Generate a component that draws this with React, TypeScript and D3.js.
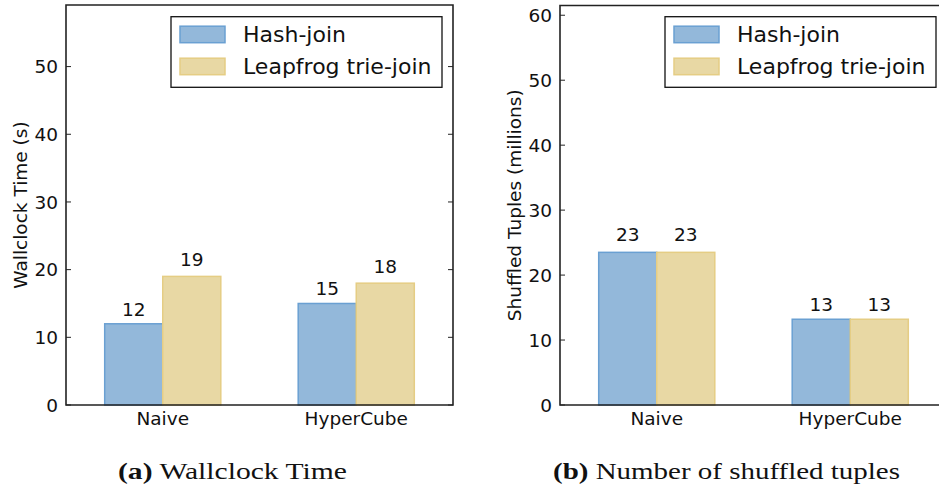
import React, { useEffect, useRef } from "react"
import * as d3 from "d3"

const categories = ["Naive", "HyperCube"]
const seriesNames = ["Hash-join", "Leapfrog trie-join"]
const seriesFill = ["#93b8da", "#e8d8a4"]
const seriesStroke = ["#6aa0d2", "#e5cd84"]

const wallclockHash = [12, 15]
const wallclockLeapfrog = [19, 18]
const wallclockTicks = [0, 10, 20, 30, 40, 50]

const shuffledHash = [23.5, 13.2]
const shuffledLeapfrog = [23.5, 13.2]
const shuffledTicks = [0, 10, 20, 30, 40, 50, 60]

const panels = [
    {
        left: 66, top: 5, yMax: 59.1,
        series: [wallclockHash, wallclockLeapfrog],
        ticks: wallclockTicks,
        yLabel: "Wallclock Time (s)",
        tag: "(a)", caption: " Wallclock Time", capX: 118, capW: 229,
    },
    {
        left: 560, top: 5.5, yMax: 61.5,
        series: [shuffledHash, shuffledLeapfrog],
        ticks: shuffledTicks,
        yLabel: "Shuffled Tuples (millions)",
        tag: "(b)", caption: " Number of shuffled tuples", capX: 553, capW: 347,
    },
]

const App = () => {
    const ref = useRef(null)

    useEffect(() => {
        const svg = d3.select(ref.current)
        svg.selectAll("*").remove()

        const axW = 387
        const bottom = 405
        const barW = 0.3
        const font = "DejaVu Sans"

        panels.forEach(p => {
            const g = svg.append("g")
            const x = d3.scaleLinear().domain([0, 2]).range([p.left, p.left + axW])
            const y = d3.scaleLinear().domain([0, p.yMax]).range([bottom, p.top])

            // bars + value labels
            p.series.forEach((vals, s) => {
                g.selectAll(null)
                    .data(vals)
                    .enter().append("rect")
                    .attr("x", (d, i) => x(i + 0.5 - barW + s * barW))
                    .attr("y", d => y(d))
                    .attr("width", x(barW) - x(0))
                    .attr("height", d => bottom - y(d))
                    .attr("fill", seriesFill[s])
                    .attr("stroke", seriesStroke[s])
                    .attr("stroke-width", 1.5)

                g.selectAll(null)
                    .data(vals)
                    .enter().append("text")
                    .attr("x", (d, i) => x(i + 0.5 - barW + s * barW + barW / 2))
                    .attr("y", d => y(d * 1.045) - 4.4)
                    .attr("text-anchor", "middle")
                    .attr("font-family", font)
                    .attr("font-size", 18.5)
                    .attr("fill", "#111")
                    .text(d => Math.floor(d))
            })

            // spines
            const x0 = x(0), x1 = x(2)
            g.append("path")
                .attr("d", `M${x0},${bottom}V${p.top}H${x1}V${bottom}Z`)
                .attr("fill", "none")
                .attr("stroke", "#222")
                .attr("stroke-width", 1.6)

            // y ticks (inward on both sides)
            p.ticks.forEach(t => {
                g.append("line")
                    .attr("x1", x0).attr("x2", x0 + 5)
                    .attr("y1", y(t)).attr("y2", y(t))
                    .attr("stroke", "#222").attr("stroke-width", 1)
                g.append("line")
                    .attr("x1", x1 - 5).attr("x2", x1)
                    .attr("y1", y(t)).attr("y2", y(t))
                    .attr("stroke", "#222").attr("stroke-width", 1)
                g.append("text")
                    .attr("x", x0 - 8)
                    .attr("y", y(t))
                    .attr("dy", "0.36em")
                    .attr("text-anchor", "end")
                    .attr("font-family", font)
                    .attr("font-size", 18.5)
                    .attr("fill", "#111")
                    .text(t)
            })

            // x tick labels
            g.selectAll(null)
                .data(categories)
                .enter().append("text")
                .attr("x", (d, i) => x(i + 0.5))
                .attr("y", 425)
                .attr("text-anchor", "middle")
                .attr("font-family", font)
                .attr("font-size", 18.5)
                .attr("fill", "#111")
                .text(d => d)

            // y axis label
            g.append("text")
                .attr("transform", `translate(${x0 - 39}, ${(bottom + p.top) / 2}) rotate(-90)`)
                .attr("text-anchor", "middle")
                .attr("font-family", font)
                .attr("font-size", 18.5)
                .attr("fill", "#111")
                .text(p.yLabel)

            // legend
            const lx = x1 - 11 - 271
            const ly = 16.7
            g.append("rect")
                .attr("x", lx).attr("y", ly)
                .attr("width", 271).attr("height", 70.6)
                .attr("fill", "white")
                .attr("stroke", "#111")
                .attr("stroke-width", 1.3)
            seriesNames.forEach((name, s) => {
                g.append("rect")
                    .attr("x", lx + 9).attr("y", ly + 9.5 + s * 32)
                    .attr("width", 45).attr("height", 16.5)
                    .attr("fill", seriesFill[s])
                    .attr("stroke", seriesStroke[s])
                    .attr("stroke-width", 1.5)
                g.append("text")
                    .attr("x", lx + 72).attr("y", ly + 25.5 + s * 32)
                    .attr("font-family", font)
                    .attr("font-size", 22)
                    .attr("fill", "#111")
                    .text(name)
            })

            // caption
            const cap = g.append("text")
                .attr("x", p.capX).attr("y", 479)
                .attr("font-family", "Liberation Serif")
                .attr("font-size", 23.5)
                .attr("fill", "#111")
                .attr("textLength", p.capW)
                .attr("lengthAdjust", "spacingAndGlyphs")
            cap.append("tspan").attr("font-weight", "bold").text(p.tag)
            cap.append("tspan").text(p.caption)
        })
    }, [])

    return (
        <svg
            ref={ref}
            width={939}
            height={488}
            style={{ position: "absolute", left: 0, top: 0, background: "white" }}
        />
    )
}

export default App
